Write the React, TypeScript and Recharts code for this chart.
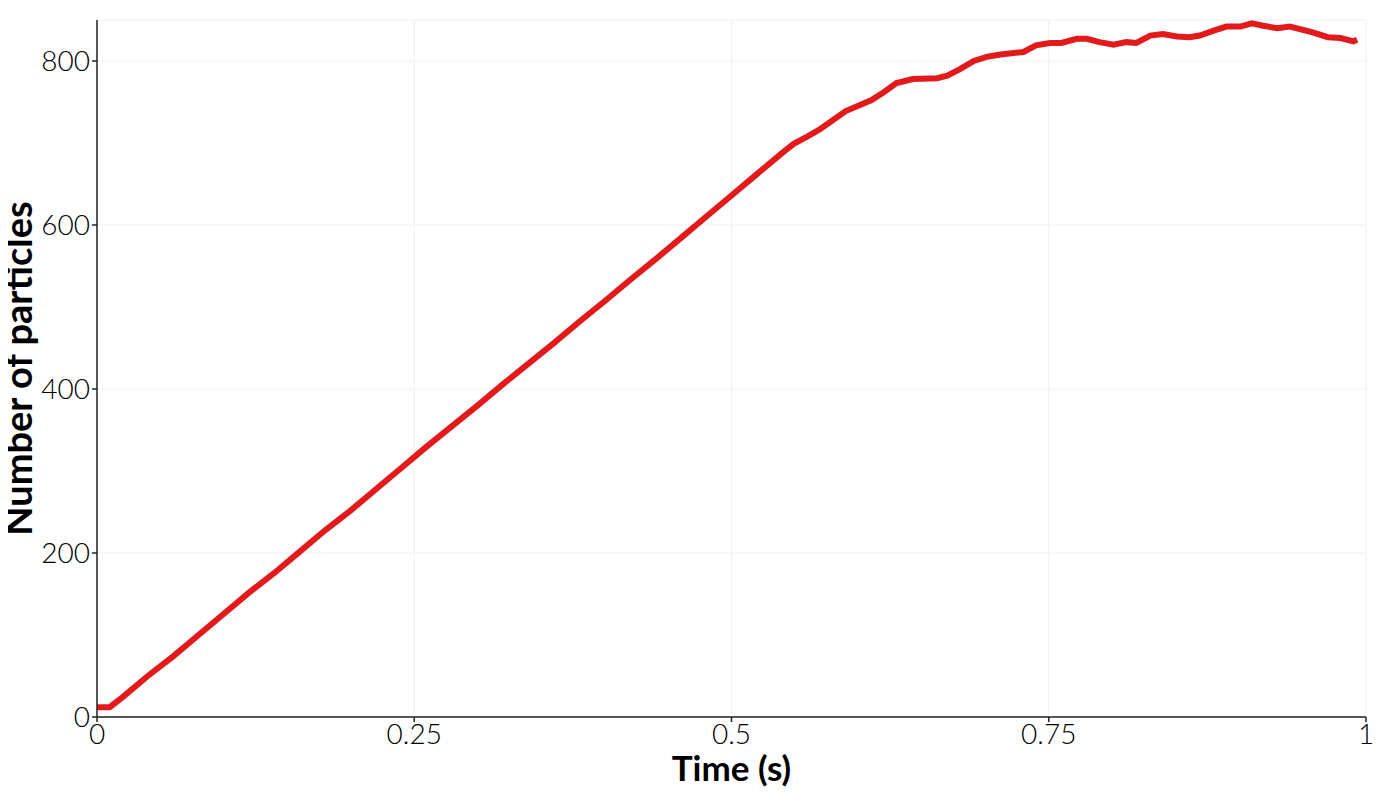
import React from "react";
import { LineChart, Line, XAxis, YAxis, CartesianGrid, Label } from "recharts";

const times = [
  0, 0.01, 0.02, 0.04, 0.06, 0.08, 0.1, 0.12, 0.14, 0.16, 0.18, 0.2, 0.22, 0.24,
  0.26, 0.28, 0.3, 0.32, 0.34, 0.36, 0.38, 0.4, 0.42, 0.44, 0.46, 0.48, 0.5,
  0.52, 0.54, 0.549, 0.56, 0.57, 0.59, 0.61, 0.62, 0.63, 0.643, 0.662, 0.67, 0.68,
  0.691, 0.701, 0.712, 0.73, 0.74, 0.751, 0.76, 0.772, 0.78, 0.79, 0.801,
  0.811, 0.819, 0.83, 0.84, 0.851, 0.861, 0.869, 0.88, 0.89, 0.901, 0.91,
  0.919, 0.93, 0.94, 0.958, 0.97, 0.98, 0.99, 0.993,
];

const particles = [
  12, 12, 24, 50, 74, 100, 126, 152, 176, 202, 228, 252, 278, 304,
  330, 355, 380, 406, 431, 456, 482, 507, 533, 558, 584, 610, 636,
  662, 688, 699, 708, 717, 739, 752, 762, 773, 778, 779, 782, 790,
  800, 805, 808, 811, 819, 822, 822, 827, 827, 823, 820,
  823, 822, 831, 833, 830, 829, 831, 837, 842, 842, 846,
  843, 840, 842, 835, 829, 828, 824, 826,
];

const xTicks = [0, 0.25, 0.5, 0.75, 1];
const yTicks = [0, 200, 400, 600, 800];

const data = times.map((t, i) => ({ t, n: particles[i] }));

const FONT = "Lato, 'DejaVu Sans', sans-serif";
const tickStyle = { fill: "#000", fontSize: 28, fontFamily: FONT, fontWeight: 300 };

export default function App() {
  return (
    <LineChart
      width={1370}
      height={780}
      data={data}
      margin={{ top: 12, right: 12, bottom: 0, left: 0 }}
    >
      <CartesianGrid stroke="#f0f0f0" strokeWidth={1} />
      <XAxis
        dataKey="t"
        type="number"
        domain={[0, 1]}
        ticks={xTicks}
        height={71}
        tick={tickStyle}
        tickSize={5}
        stroke="#222"
        strokeWidth={1.5}
        tickLine={{ stroke: "#222" }}
      >
        <Label
          content={({ viewBox }) => (
            <text
              x={viewBox.x + viewBox.width / 2}
              y={773}
              textAnchor="middle"
              fontFamily={FONT}
              fontWeight={700}
              fontSize={35}
              fill="#000"
            >
              Time (s)
            </text>
          )}
        />
      </XAxis>
      <YAxis
        type="number"
        domain={[0, 850]}
        ticks={yTicks}
        width={89}
        tick={tickStyle}
        tickSize={5}
        stroke="#222"
        strokeWidth={1.5}
        tickLine={{ stroke: "#222" }}
      >
        <Label
          content={({ viewBox }) => {
            const cx = 24;
            const cy = viewBox.y + viewBox.height / 2;
            return (
              <text
                x={cx}
                y={cy}
                transform={`rotate(-90 ${cx} ${cy})`}
                textAnchor="middle"
                fontFamily={FONT}
                fontWeight={700}
                fontSize={38}
                fill="#000"
              >
                Number of particles
              </text>
            );
          }}
        />
      </YAxis>
      <Line
        type="linear"
        dataKey="n"
        stroke="#e31a1c"
        strokeWidth={6}
        dot={false}
        activeDot={false}
        isAnimationActive={false}
      />
    </LineChart>
  );
}
